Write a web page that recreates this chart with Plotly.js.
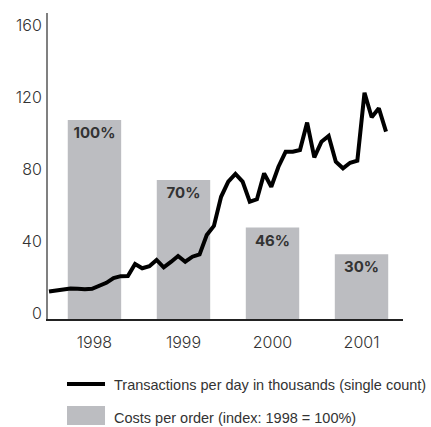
<!DOCTYPE html>
<html>
<head>
<meta charset="utf-8">
<script src="https://cdn.plot.ly/plotly-3.0.1.min.js"></script>
<style>
  body { margin: 0; padding: 0; background: #fff; }
  #chart { width: 431px; height: 427px; }
</style>
</head>
<body>
<div id="chart"></div>
<script>
//years for the cost bars
var years = ["1998", "1999", "2000", "2001"];
//cost per order, read on the left scale
var costHeights = [110.5, 77.2, 50.8, 36];
var costLabels = ["100%", "70%", "46%", "30%"];

//transactions per day (thousands), one value per month, jan 1998 - dec 2001
var months = [];
for (var i = 0; i < 48; i++) { months.push(i); }
var transactions = [
    15.3, 16.0, 16.8, 17.0, 16.8, 16.5, 16.8, 18.4, 20.1, 22.7, 23.8, 23.9,
    30.6, 28.2, 29.3, 32.8, 28.7, 31.7, 35.0, 31.8, 34.6, 35.9, 46.7, 51.7,
    67.9, 76.3, 80.6, 76.3, 65.2, 66.5, 80.9, 73.5, 84.6, 92.9, 92.9, 93.9,
    109.1, 89.8, 98.5, 101.7, 87.4, 83.7, 86.8, 87.9, 125.7, 112.1, 117.1, 104.1
];

var yTicks = [0, 40, 80, 120, 160];

//bars
var traceCosts = {
    x: years,
    y: costHeights,
    type: 'bar',
    width: 0.6,
    text: costLabels,
    textposition: 'inside',
    insidetextanchor: 'end',
    textfont: {family: 'Inter, DejaVu Sans, sans-serif', size: 15, color: '#333333', weight: 700},
    marker: {color: '#bcbdc1'},
    hoverinfo: 'skip',
    name: 'Costs per order (index: 1998 = 100%)'
};

//line
var traceTrans = {
    x: months,
    y: transactions,
    xaxis: 'x2',
    type: 'scatter',
    mode: 'lines',
    line: {width: 4, color: '#000000'},
    hoverinfo: 'skip',
    name: 'Transactions per day in thousands (single count)'
};

var tickFont = {family: 'Inter, DejaVu Sans, sans-serif', size: 16, color: '#333333', weight: 300};
var legFont = {family: 'Liberation Sans, Arial, sans-serif', size: 14.5, color: '#333333'};

var layout = {
    width: 431,
    height: 427,
    margin: {l: 48, r: 28, t: 13, b: 108, pad: 0},
    paper_bgcolor: '#ffffff',
    plot_bgcolor: '#ffffff',
    showlegend: false,
    xaxis: {
        type: 'category',
        range: [-0.522, 3.466],
        showgrid: false,
        zeroline: false,
        showline: true,
        linecolor: '#222222',
        linewidth: 1.5,
        ticks: '',
        ticklabelstandoff: 8,
        tickfont: tickFont,
        fixedrange: true
    },
    xaxis2: {
        overlaying: 'x',
        range: [-0.14, 49.37],
        visible: false,
        fixedrange: true
    },
    yaxis: {
        range: [0, 170],
        tickvals: yTicks,
        showgrid: false,
        zeroline: false,
        showline: true,
        linecolor: '#808080',
        linewidth: 2,
        ticks: '',
        ticklabelstandoff: 1,
        ticklabelshift: -6,
        tickfont: tickFont,
        fixedrange: true
    },
    //hand made legend
    shapes: [
        {type: 'line', xref: 'paper', yref: 'paper', x0: 0.0535, x1: 0.1606, y0: -0.2124, y1: -0.2124,
         line: {color: '#000000', width: 4}},
        {type: 'rect', xref: 'paper', yref: 'paper', x0: 0.0535, x1: 0.1606, y0: -0.3464, y1: -0.2843,
         fillcolor: '#bcbdc1', line: {width: 0}}
    ],
    annotations: [
        {xref: 'paper', yref: 'paper', x: 0.18, y: -0.2157, xanchor: 'left', yanchor: 'middle',
         text: traceTrans.name, showarrow: false, font: legFont},
        {xref: 'paper', yref: 'paper', x: 0.18, y: -0.3235, xanchor: 'left', yanchor: 'middle',
         text: traceCosts.name, showarrow: false, font: legFont}
    ]
};

Plotly.newPlot('chart', [traceCosts, traceTrans], layout, {displayModeBar: false, staticPlot: true});
</script>
</body>
</html>
